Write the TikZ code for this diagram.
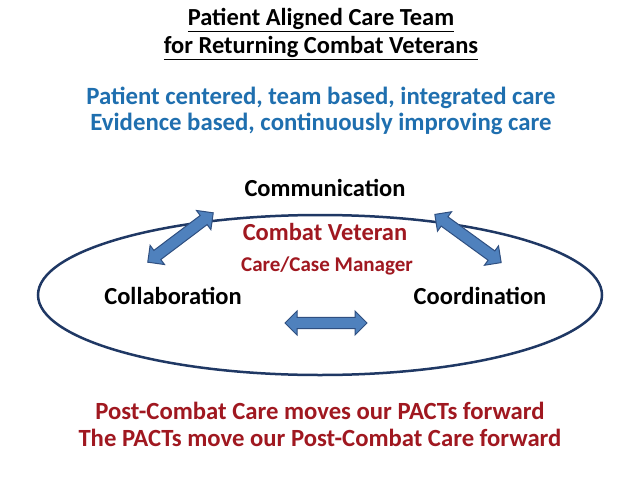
\documentclass[tikz,border=0pt]{standalone}
\usepackage{fontspec}
\setmainfont{Carlito}
\usetikzlibrary{shapes.arrows}
\definecolor{tblue}{HTML}{1F6FAF}
\definecolor{tred}{HTML}{A01820}
\definecolor{ered}{HTML}{1F3864}
\definecolor{afill}{HTML}{4F81BD}
\definecolor{aline}{HTML}{2F4F80}
\begin{document}
\begin{tikzpicture}[x=1pt,y=-1pt,
  t/.style={font=\fontsize{24.5}{26}\selectfont\bfseries},
  darr/.style={double arrow, draw=aline, fill=afill, line width=1pt, minimum height=#1, minimum width=24pt, double arrow head extend=6pt, inner xsep=0pt, inner ysep=5pt}]
\useasboundingbox (0,0) rectangle (640,479);
\fill[white] (0,0) rectangle (640,479);
\node[t] (t1) at (321,20) {\underline{Patient Aligned Care Team}};
\node[t] (t2) at (321,48) {\underline{for Returning Combat Veterans}};
\node[font=\fontsize{24.8}{26}\selectfont\bfseries, text=tblue] (b1) at (321,98) {Patient centered, team based, integrated care};
\node[font=\fontsize{24.8}{26}\selectfont\bfseries, text=tblue] (b2) at (321,124) {Evidence based, continuously improving care};
\draw[ered, line width=2.5pt] (320,295) ellipse [x radius=282, y radius=80];
\node[t] (comm) at (325,188) {Communication};
\node[t, text=tred] (cv) at (325,232) {Combat Veteran};
\node[text=tred, font=\fontsize{21}{23}\selectfont\bfseries] (cm) at (327,266) {Care/Case Manager};
\node[t] (col) at (173,296) {Collaboration};
\node[t] (coo) at (480,296) {Coordination};
\node[darr=82pt, rotate=37] (a1) at (180.5,237.5) {};
\node[darr=82pt, rotate=-36] (a2) at (468,238.5) {};
\node[darr=82pt] (a3) at (326,323) {};
\node[font=\fontsize{24.7}{26}\selectfont\bfseries, text=tred] (r1) at (320,411) {Post-Combat Care moves our PACTs forward};
\node[font=\fontsize{24.7}{26}\selectfont\bfseries, text=tred] (r2) at (320,438) {The PACTs move our Post-Combat Care forward};
\end{tikzpicture}
\end{document}
